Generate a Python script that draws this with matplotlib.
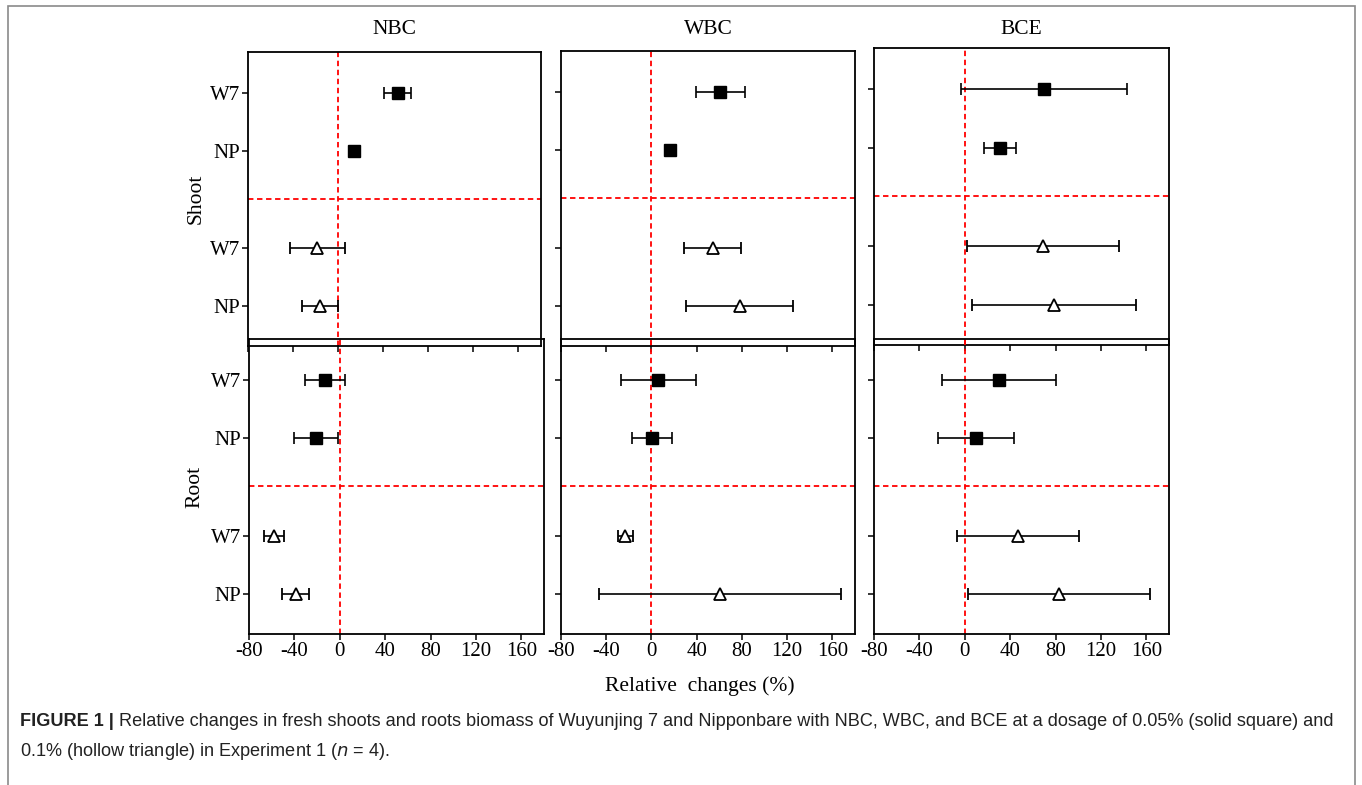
import matplotlib
matplotlib.use('Agg')
import matplotlib.pyplot as plt
from matplotlib.patches import Rectangle

# treatments (columns) and genotypes (tick labels)
treatments = ['NBC', 'WBC', 'BCE']
genotypes = ['W7', 'NP']

# relative changes (%) -- [W7, NP] for each treatment
shoot_sq_mean = [[53, 14], [61, 16], [70, 31]]
shoot_sq_err = [[12, 1.5], [22, 1.5], [73, 14]]
shoot_tri_mean = [[-18.5, -16], [54, 78], [69, 78.5]]
shoot_tri_err = [[24.5, 16], [25, 47.5], [67, 72.5]]

root_sq_mean = [[-13, -21], [6, 0.5], [30, 9.5]]
root_sq_err = [[17.5, 19], [33, 17.7], [50, 33.5]]
root_tri_mean = [[-58, -39], [-23, 60.5], [47, 83]]
root_tri_err = [[8.5, 11.5], [7, 107], [54, 80]]

xticks = [-80, -40, 0, 40, 80, 120, 160]

W, H = 1362, 785
plt.rcParams['font.family'] = ['Liberation Serif', 'DejaVu Serif']
fig = plt.figure(figsize=(W / 100, H / 100), dpi=100)

def px_axes(x0, y0, x1, y1):
    "add axes from pixel box (top-left origin)"
    return fig.add_axes([x0 / W, 1 - y1 / H, (x1 - x0) / W, (y1 - y0) / H])

# panel boxes in pixels
top_boxes = [(248, 52, 541, 346), (561, 51, 855, 346), (874, 48, 1169, 345)]
bot_boxes = [(249, 339, 544, 634), (561, 339, 855, 634), (874, 339, 1169, 634)]

sq_pos = [0.7, 1.7]
tri_pos = [3.37, 4.37]
div_pos = 2.52

def draw_panel(ax, sq_m, sq_e, tri_m, tri_e, labels_y, labels_x):
    ax.set_facecolor('none')
    ax.axvline(0, color='red', ls=(0, (3, 2)), lw=1.3, zorder=1)
    ax.axhline(div_pos, color='red', ls=(0, (3, 2)), lw=1.3, zorder=1)
    ax.errorbar(sq_m, sq_pos, xerr=sq_e, fmt='s', color='black', mfc='black',
                mec='black', ms=8.5, capsize=4, elinewidth=1.2, capthick=1.2, zorder=3)
    ax.errorbar(tri_m, tri_pos, xerr=tri_e, fmt='^', color='black', mfc='white',
                mec='black', ms=9, mew=1.3, capsize=4, elinewidth=1.2, capthick=1.2, zorder=3)
    ax.set_xlim(-80, 180)
    ax.set_ylim(5.05, 0)
    ax.set_xticks(xticks)
    ax.set_yticks(sq_pos + tri_pos)
    if labels_y:
        ax.set_yticklabels(genotypes + genotypes)
    else:
        ax.set_yticklabels([])
    if labels_x:
        ax.set_xticklabels([str(t) for t in xticks])
    else:
        ax.set_xticklabels([])
    ax.tick_params(direction='out', length=4, width=1.1, labelsize=15, pad=1.5)
    for s in ax.spines.values():
        s.set_linewidth(1.3)

for i, name in enumerate(treatments):
    ax_t = px_axes(*top_boxes[i])
    draw_panel(ax_t, shoot_sq_mean[i], shoot_sq_err[i], shoot_tri_mean[i], shoot_tri_err[i],
               i == 0, False)
    xc = (top_boxes[i][0] + top_boxes[i][2]) / 2
    fig.text(xc / W, 1 - 30 / H, name, fontsize=15.5, ha='center', va='center')
    ax_b = px_axes(*bot_boxes[i])
    draw_panel(ax_b, root_sq_mean[i], root_sq_err[i], root_tri_mean[i], root_tri_err[i],
               i == 0, True)
    if i == 0:
        ax_t.set_ylabel('Shoot', fontsize=15.5)
        ax_t.yaxis.set_label_coords(-0.145, 0.5)
        ax_b.set_ylabel('Root', fontsize=15.5)
        ax_b.yaxis.set_label_coords(-0.15, 0.5)

fig.text(700 / W, 1 - 686 / H, 'Relative  changes (%)', fontsize=15.5, ha='center', va='center')

# outer frame of the figure box
fig.patches.append(Rectangle((8 / W, -0.05), (1355 - 8) / W, 1.05 - 6 / H, transform=fig.transFigure,
                             fill=False, edgecolor='#8a8a8a', lw=1.2))

# caption
cap_kw = dict(fontsize=13.1, family='Liberation Sans', color='#222222', va='center', ha='left')
bold = fig.text(20 / W, 1 - 722 / H, 'FIGURE 1 |', fontweight='bold', **cap_kw)
fig.canvas.draw()
bb = bold.get_window_extent()
fig.text((bb.x1 + 5) / W, 1 - 722 / H,
         'Relative changes in fresh shoots and roots biomass of Wuyunjing 7 and Nipponbare with NBC, '
         'WBC, and BCE at a dosage of 0.05% (solid square) and', **cap_kw)
fig.text(20 / W, 1 - 752 / H, '0.1% (hollow triangle) in Experiment 1 ($n$ = 4).', **cap_kw)

fig.savefig('out.png', dpi=100)
